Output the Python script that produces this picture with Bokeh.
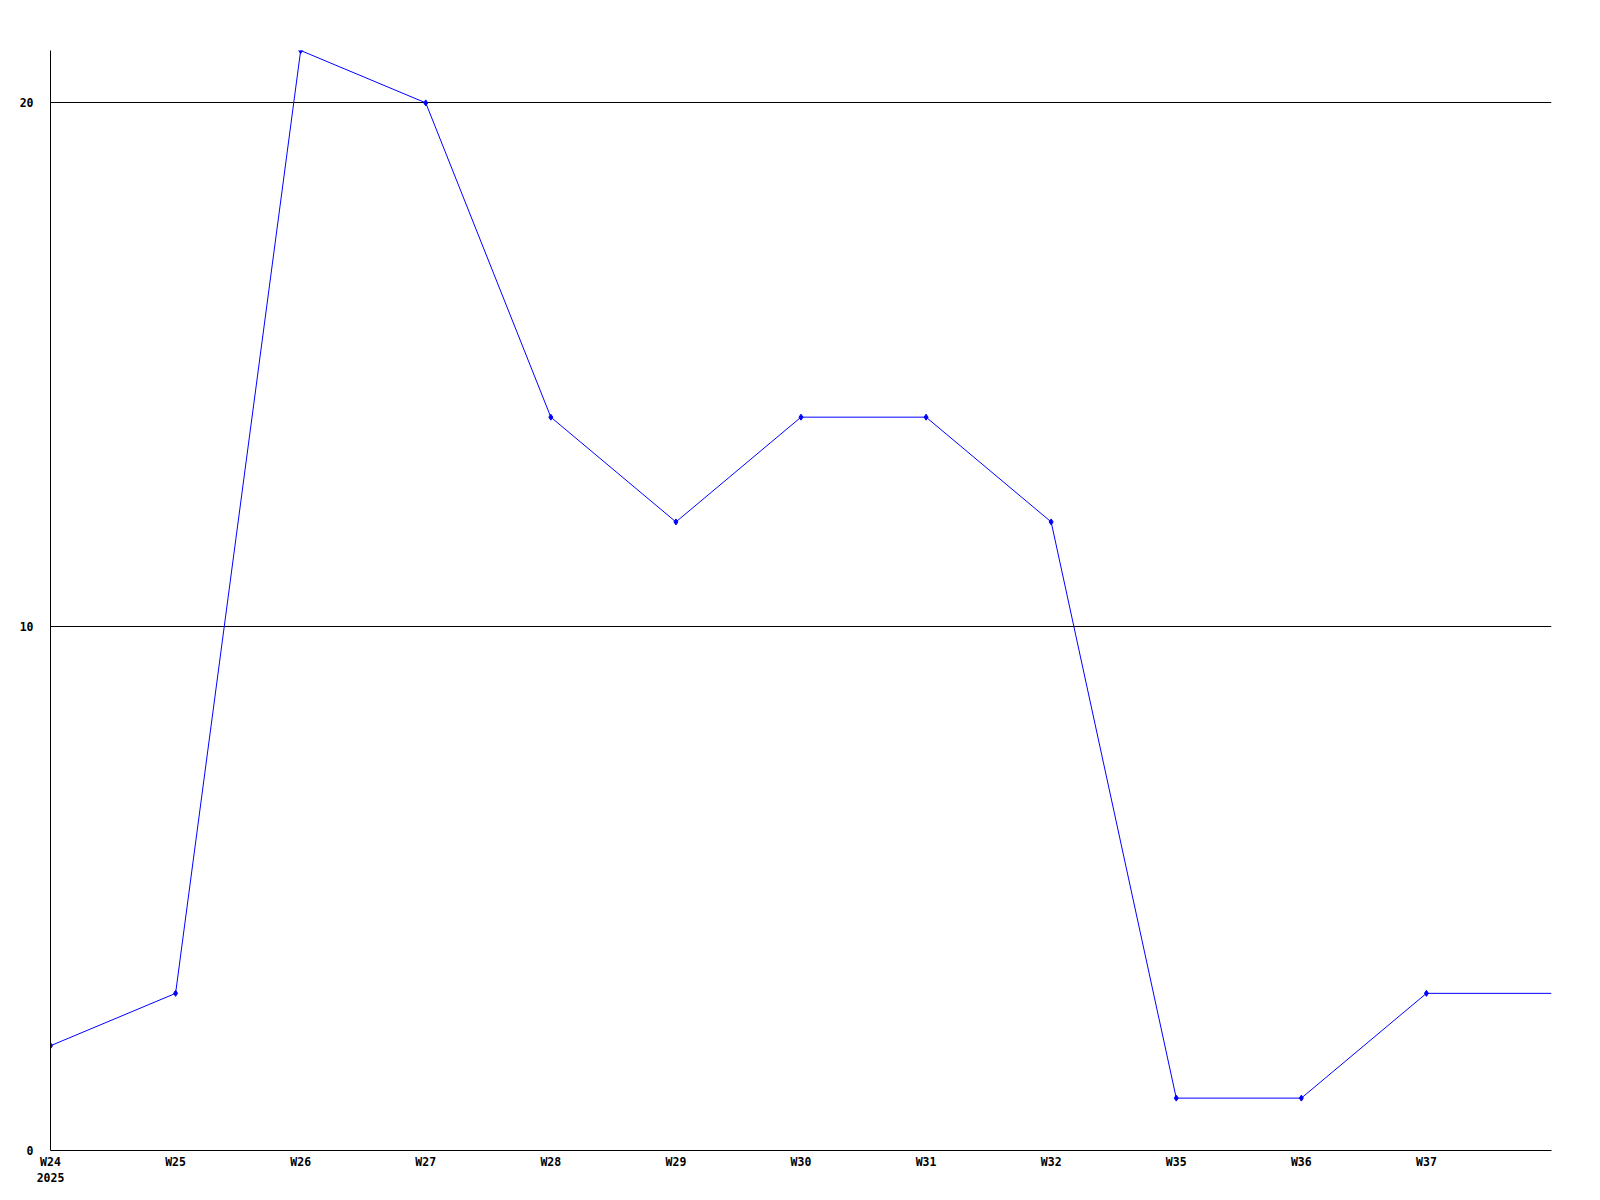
from bokeh.plotting import figure
from bokeh.models import Range1d, FixedTicker
from bokeh.embed import file_html
from bokeh.resources import INLINE

weeks = ["W24", "W25", "W26", "W27", "W28", "W29", "W30", "W31", "W32", "W35", "W36", "W37"]
values = [2, 3, 21, 20, 14, 12, 14, 14, 12, 1, 1, 3]
year_label = "2025"
y_ticks = [0, 10, 20]

xs = list(range(len(weeks)))
# last value is held to the right edge of the chart
line_x = xs + [len(weeks)]
line_y = values + [values[-1]]

p = figure(
    frame_width=1501, frame_height=1100,
    min_border_left=50, min_border_top=50, min_border_right=33, min_border_bottom=34,
    x_range=Range1d(0, len(weeks)), y_range=Range1d(0, 21),
    output_backend="svg", toolbar_location=None, tools="",
)
p.outline_line_color = None
p.background_fill_color = "white"
p.border_fill_color = "white"

p.line(line_x, line_y, line_color="#0000ff", line_width=1)
p.scatter(xs, values, marker="diamond", size=6, color="#0000ff")

font = "DejaVu Sans Mono"
for ax in (p.xaxis[0], p.yaxis[0]):
    ax.axis_line_color = "black"
    ax.axis_line_width = 1
    ax.major_tick_out = 0
    ax.major_tick_in = 0
    ax.minor_tick_out = 0
    ax.minor_tick_in = 0
    ax.major_label_text_font = font
    ax.major_label_text_font_style = "bold"
    ax.major_label_text_font_size = "11.5px"
    ax.major_label_text_color = "black"

p.xaxis.ticker = FixedTicker(ticks=xs)
overrides = {i: w for i, w in enumerate(weeks)}
overrides[0] = weeks[0] + "\n" + year_label
p.xaxis.major_label_overrides = overrides
p.xaxis.major_label_standoff = 4

p.yaxis.ticker = FixedTicker(ticks=y_ticks)
p.yaxis.major_label_standoff = 17

p.xgrid.visible = False
p.ygrid.grid_line_color = "black"
p.ygrid.grid_line_width = 1
p.ygrid.grid_line_alpha = 1.0

open("out.html", "w").write(file_html(p, INLINE))
